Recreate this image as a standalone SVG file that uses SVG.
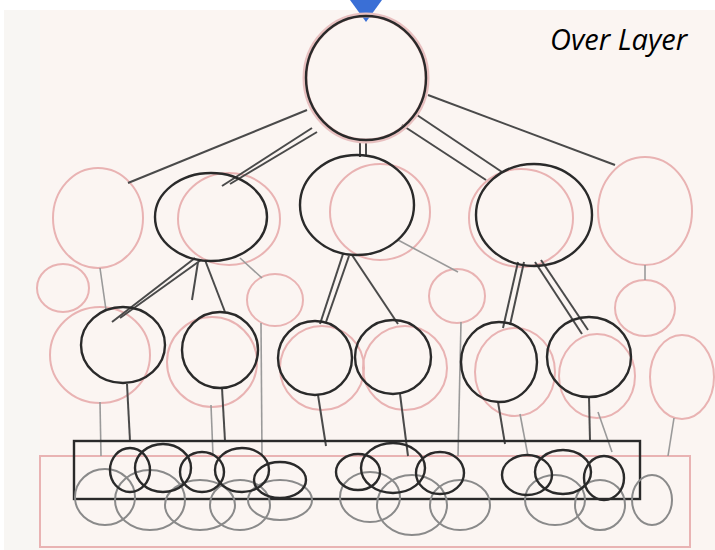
<svg xmlns="http://www.w3.org/2000/svg" width="715" height="550" viewBox="0 0 715 550">
<style>
.bg{fill:#fbf5f2}
.dk{fill:none;stroke:#2a2a2a;stroke-width:2.4}
.pk{fill:none;stroke:#e9b3b3;stroke-width:2}
.gr{fill:none;stroke:#8a8a8a;stroke-width:2}
.ln{stroke:#4a4a4a;stroke-width:2;fill:none}
.lg{stroke:#9a9a9a;stroke-width:1.6;fill:none}
.halo{fill:none;stroke:#e8c0c0;stroke-width:5}
.t{font-family:"Open Sans","Liberation Sans",sans-serif;font-style:italic;font-size:29px;fill:#000}
</style>
<rect width="715" height="550" fill="#ffffff"/>
<rect class="bg" x="40" y="10" width="675" height="540"/>
<rect x="4" y="10" width="36" height="540" fill="#f8f6f3"/>
<path d="M350,0 L382,0 L366,22 Z" fill="#3a6fd6"/>
<text class="t" x="550" y="50">Over Layer</text>

<g id="pink-layer">
<ellipse class="pk" cx="98" cy="218" rx="45" ry="50"/>
<ellipse class="pk" cx="229" cy="219" rx="51" ry="46"/>
<ellipse class="pk" cx="380" cy="212" rx="50" ry="48"/>
<ellipse class="pk" cx="521" cy="218" rx="52" ry="49"/>
<ellipse class="pk" cx="645" cy="211" rx="47" ry="54"/>
<ellipse class="pk" cx="63" cy="288" rx="26" ry="24"/>
<ellipse class="pk" cx="275" cy="300" rx="28" ry="26"/>
<ellipse class="pk" cx="457" cy="296" rx="28" ry="27"/>
<ellipse class="pk" cx="645" cy="308" rx="30" ry="28"/>
<ellipse class="pk" cx="682" cy="377" rx="32" ry="42"/>
<ellipse class="pk" cx="100" cy="355" rx="50" ry="48"/>
<ellipse class="pk" cx="212" cy="362" rx="45" ry="45"/>
<ellipse class="pk" cx="322" cy="368" rx="42" ry="42"/>
<ellipse class="pk" cx="405" cy="368" rx="42" ry="42"/>
<ellipse class="pk" cx="515" cy="372" rx="40" ry="44"/>
<ellipse class="pk" cx="597" cy="376" rx="38" ry="42"/>
<rect x="40" y="456" width="650" height="91" fill="none" stroke="#e9b3b3" stroke-width="2"/>
</g>

<g id="connectors">
<line class="ln" x1="307" y1="110" x2="128" y2="183"/>
<line class="ln" x1="312" y1="128" x2="222" y2="186"/>
<line class="ln" x1="317" y1="132" x2="230" y2="184"/>
<line class="ln" x1="360" y1="140" x2="360" y2="157"/>
<line class="ln" x1="366" y1="140" x2="366" y2="156"/>
<line class="ln" x1="402" y1="125" x2="486" y2="180"/>
<line class="ln" x1="414" y1="113" x2="502" y2="172"/>
<line class="ln" x1="428" y1="95" x2="615" y2="165"/>
<line class="ln" x1="195" y1="258" x2="112" y2="322"/>
<line class="ln" x1="201" y1="260" x2="120" y2="318"/>
<line class="ln" x1="205" y1="260" x2="225" y2="312"/>
<line class="ln" x1="198" y1="262" x2="192" y2="300"/>
<line class="lg" x1="240" y1="258" x2="262" y2="278"/>
<line class="ln" x1="343" y1="254" x2="320" y2="324"/>
<line class="ln" x1="349" y1="256" x2="326" y2="322"/>
<line class="ln" x1="352" y1="255" x2="398" y2="324"/>
<line class="lg" x1="398" y1="240" x2="458" y2="272"/>
<line class="ln" x1="518" y1="262" x2="503" y2="328"/>
<line class="ln" x1="524" y1="262" x2="510" y2="325"/>
<line class="ln" x1="535" y1="262" x2="582" y2="334"/>
<line class="ln" x1="541" y1="260" x2="588" y2="330"/>
<line class="lg" x1="100" y1="268" x2="106" y2="310"/>
<line class="lg" x1="645" y1="265" x2="645" y2="280"/>
<line class="lg" x1="100" y1="402" x2="101" y2="456"/>
<line class="ln" x1="127" y1="384" x2="130" y2="441"/>
<line class="lg" x1="211" y1="405" x2="213" y2="456"/>
<line class="ln" x1="222" y1="388" x2="225" y2="441"/>
<line class="lg" x1="261" y1="323" x2="262" y2="456"/>
<line class="ln" x1="318" y1="395" x2="326" y2="446"/>
<line class="ln" x1="400" y1="394" x2="408" y2="456"/>
<line class="lg" x1="461" y1="322" x2="458" y2="456"/>
<line class="ln" x1="498" y1="402" x2="505" y2="444"/>
<line class="lg" x1="520" y1="414" x2="528" y2="456"/>
<line class="ln" x1="589" y1="397" x2="590" y2="441"/>
<line class="lg" x1="598" y1="412" x2="612" y2="452"/>
<line class="lg" x1="674" y1="418" x2="668" y2="456"/>
</g>

<g id="top">
<ellipse class="halo" cx="366" cy="78" rx="61" ry="63"/>
<ellipse class="dk" cx="366" cy="78" rx="60" ry="62"/>
</g>
<g id="mid-left"><ellipse class="dk" cx="211" cy="217" rx="56" ry="44"/></g>
<g id="mid-center"><ellipse class="dk" cx="357" cy="205" rx="57" ry="50"/></g>
<g id="mid-right"><ellipse class="dk" cx="534" cy="215" rx="58" ry="51"/></g>

<g id="l3-1"><ellipse class="dk" cx="123" cy="345" rx="42" ry="38"/></g>
<g id="l3-2"><ellipse class="dk" cx="220" cy="350" rx="38" ry="38"/></g>
<g id="l3-3"><ellipse class="dk" cx="315" cy="358" rx="37" ry="37"/></g>
<g id="l3-4"><ellipse class="dk" cx="393" cy="357" rx="38" ry="37"/></g>
<g id="l3-5"><ellipse class="dk" cx="499" cy="362" rx="38" ry="40"/></g>
<g id="l3-6"><ellipse class="dk" cx="589" cy="357" rx="42" ry="40"/></g>

<g id="bottom">
<rect x="74" y="441" width="566" height="58" fill="none" stroke="#2a2a2a" stroke-width="2.4"/>
<g class="gr">
<ellipse cx="105" cy="497" rx="30" ry="28"/>
<ellipse cx="150" cy="500" rx="35" ry="30"/>
<ellipse cx="200" cy="505" rx="35" ry="25"/>
<ellipse cx="240" cy="505" rx="30" ry="25"/>
<ellipse cx="280" cy="500" rx="32" ry="20"/>
<ellipse cx="370" cy="497" rx="30" ry="25"/>
<ellipse cx="412" cy="505" rx="35" ry="30"/>
<ellipse cx="460" cy="505" rx="30" ry="25"/>
<ellipse cx="555" cy="500" rx="30" ry="25"/>
<ellipse cx="600" cy="505" rx="25" ry="25"/>
<ellipse cx="652" cy="500" rx="20" ry="25"/>
</g>
<g class="dk">
<ellipse cx="130" cy="470" rx="20" ry="22"/>
<ellipse cx="163" cy="468" rx="28" ry="24"/>
<ellipse cx="202" cy="472" rx="22" ry="20"/>
<ellipse cx="242" cy="470" rx="27" ry="22"/>
<ellipse cx="280" cy="480" rx="26" ry="18"/>
<ellipse cx="358" cy="472" rx="22" ry="18"/>
<ellipse cx="393" cy="468" rx="32" ry="25"/>
<ellipse cx="440" cy="473" rx="24" ry="21"/>
<ellipse cx="527" cy="475" rx="25" ry="20"/>
<ellipse cx="563" cy="472" rx="28" ry="22"/>
<ellipse cx="604" cy="478" rx="20" ry="22"/>
</g>
</g>
</svg>
